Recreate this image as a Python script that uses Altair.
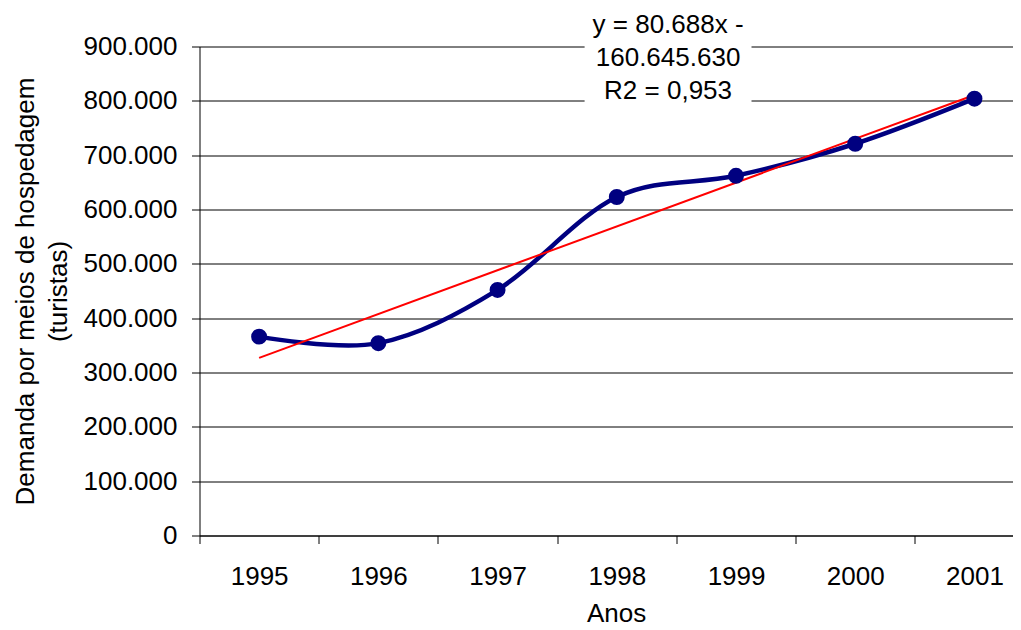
import altair as alt
import pandas as pd

# ---- data ----
anos = [1995, 1996, 1997, 1998, 1999, 2000, 2001]
demanda = [366000, 354000, 452000, 623000, 662000, 721000, 804000]
y_ticks = [0, 100000, 200000, 300000, 400000, 500000, 600000, 700000, 800000, 900000]
x_ticks = [1994.5, 1995.5, 1996.5, 1997.5, 1998.5, 1999.5, 2000.5]
eq_lines = ["y = 80.688x -", "160.645.630", "R2 = 0,953"]
y_title = ["Demanda por meios de hospedagem", "(turistas)"]
x_title = "Anos"

df = pd.DataFrame({"ano": anos, "demanda": demanda})

# annotation placement (data coordinates)
ann = pd.DataFrame({"x": [1998.43], "y": [924000], "t": ["\n".join(eq_lines)]})
box = pd.DataFrame({"x": [1997.73], "x2": [1999.13], "y": [794000], "y2": [990000]})

FONT = "Liberation Sans"
x_scale = alt.Scale(domain=[1994.5, 2001.319], nice=False, zero=False)
y_scale = alt.Scale(domain=[0, 900000], nice=False, zero=True)

x_axis = alt.Axis(
    values=x_ticks, labelExpr="format(datum.value + 0.5, 'd')", labelOffset=59.65,
    labelFlush=False, labelOverlap=False, labelBound=False, grid=False,
    tickSize=8, tickColor="black", domainColor="black", tickWidth=1, domainWidth=1,
    labelFont=FONT, labelFontSize=26, labelColor="black", labelPadding=20,
    title=x_title, titleFont=FONT, titleFontSize=26, titleFontWeight="normal",
    titleColor="black", titleX=416.5, titleY=85.5, titleBaseline="alphabetic",
    titleAlign="center",
)
y_axis = alt.Axis(
    values=y_ticks, labelExpr="replace(format(datum.value, ','), ',', '.')",
    grid=True, gridColor="black", gridWidth=1, gridOpacity=1,
    tickSize=8, tickColor="black", domainColor="black", tickWidth=1, domainWidth=1,
    labelFont=FONT, labelFontSize=26, labelColor="black", labelPadding=14.5,
    labelOverlap=False, labelFlush=False,
    title=y_title, titleFont=FONT, titleFontSize=26, titleFontWeight="normal",
    titleColor="black", titleX=-166.5, titleY=244.5, titleAngle=270,
    titleBaseline="alphabetic", titleAlign="center", titleLineHeight=33,
)

base = alt.Chart(df)

line = base.mark_line(color="#000080", strokeWidth=4.5, interpolate="cardinal").encode(
    x=alt.X("ano:Q", scale=x_scale, axis=x_axis),
    y=alt.Y("demanda:Q", scale=y_scale, axis=y_axis),
)

trend = base.transform_regression("ano", "demanda").mark_line(
    color="#FF0000", strokeWidth=2
).encode(
    x=alt.X("ano:Q", scale=x_scale, axis=x_axis),
    y=alt.Y("demanda:Q", scale=y_scale, axis=y_axis),
)

points = base.mark_point(filled=True, size=254, color="#000080", opacity=1).encode(
    x=alt.X("ano:Q", scale=x_scale, axis=x_axis),
    y=alt.Y("demanda:Q", scale=y_scale, axis=y_axis),
)

rect = alt.Chart(box).mark_rect(color="white", opacity=1).encode(
    x=alt.X("x:Q", scale=x_scale, axis=x_axis),
    x2="x2:Q",
    y=alt.Y("y:Q", scale=y_scale, axis=y_axis),
    y2="y2:Q",
)

text = alt.Chart(ann).mark_text(
    font=FONT, fontSize=26, lineHeight=33, align="center", baseline="alphabetic",
    color="black", lineBreak="\n",
).encode(
    x=alt.X("x:Q", scale=x_scale, axis=x_axis),
    y=alt.Y("y:Q", scale=y_scale, axis=y_axis),
    text="t:N",
)

chart = alt.layer(rect, line, trend, points, text).properties(
    width=813, height=489,
    autosize=alt.AutoSizeParams(type="none"),
    padding={"left": 191.5, "top": 38.5, "right": 0.5, "bottom": 94.5},
    background="white",
).configure_view(stroke=None)

chart.save("out.html", embed_options={"renderer": "svg", "actions": False})
